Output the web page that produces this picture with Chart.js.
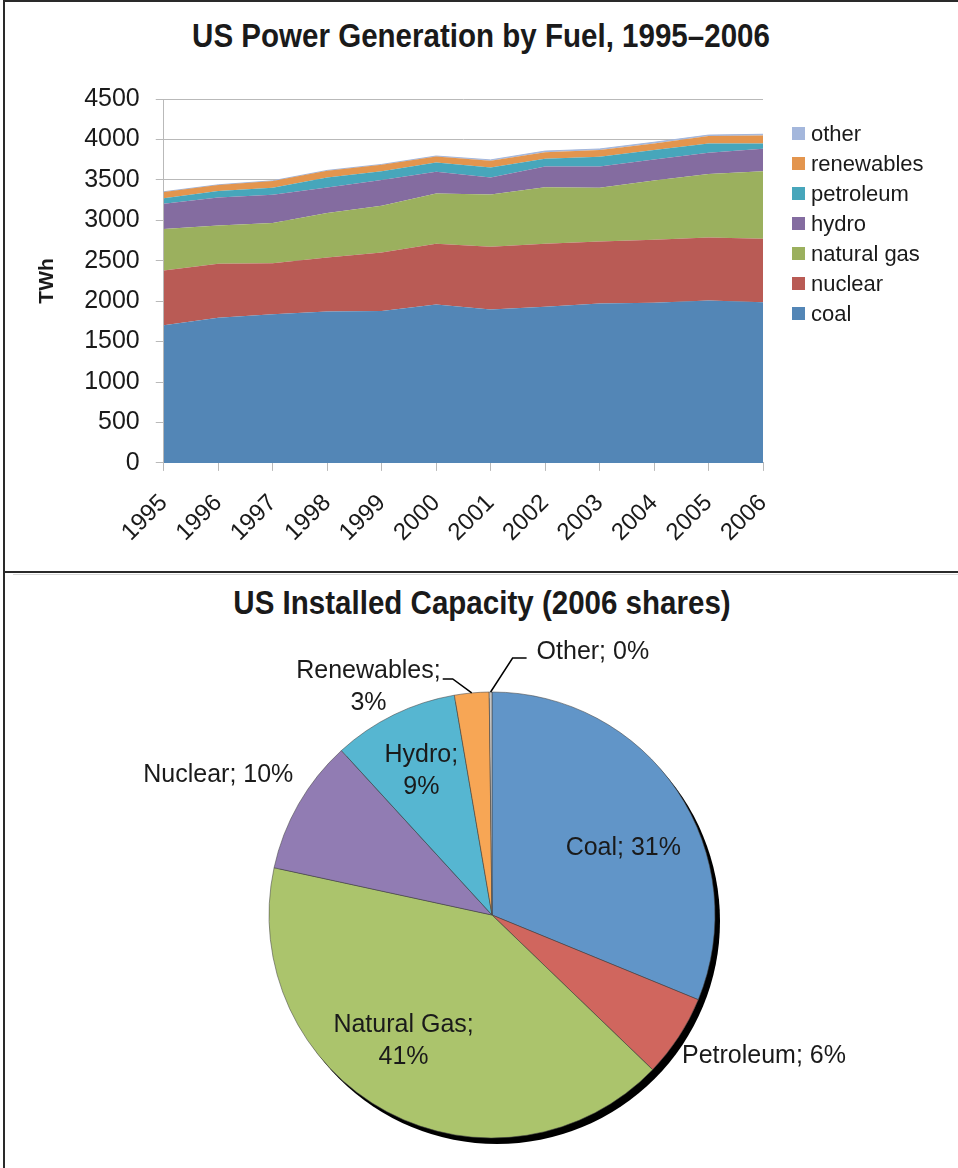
<!DOCTYPE html>
<html>
<head>
<meta charset="utf-8">
<script src="https://cdn.jsdelivr.net/npm/chart.js@4.4.1/dist/chart.umd.min.js"></script>
<style>
  body { margin: 0; background: #fff; width: 958px; height: 1168px; position: relative; overflow: hidden; }
  .frame { position: absolute; border: 2px solid #2a2a2a; box-sizing: border-box; }
  .title { position: absolute; left: 0; width: 958px; text-align: center; color: #1a1a1a;
           font: bold 33px "Liberation Sans", Arial, sans-serif; line-height: 1;
           transform: scaleX(0.895); transform-origin: 50% 50%; }
  canvas { position: absolute; left: 0; }
</style>
</head>
<body>
<div class="frame" style="left:3px;top:0;width:958px;height:573px"></div>
<div class="frame" style="left:3px;top:571px;width:958px;height:620px"></div>
<div style="position:absolute;left:13px;right:0;top:574px;height:1px;background:#d9d9d9"></div>
<div class="title" style="top:19px;left:2px">US Power Generation by Fuel, 1995–2006</div>
<div class="title" style="top:586px;left:3px">US Installed Capacity (2006 shares)</div>
<canvas id="gen" width="958" height="571" style="top:0"></canvas>
<canvas id="cap" width="958" height="596" style="top:572px"></canvas>
<script>
// generation by fuel, TWh
const years = ['1995', '1996', '1997', '1998', '1999', '2000', '2001', '2002', '2003', '2004', '2005', '2006']
const coal = [1703, 1794, 1839, 1873, 1877, 1959, 1898, 1930, 1972, 1979, 2009, 1988]
const nuclear = [677, 668, 631, 668, 726, 750, 774, 779, 767, 780, 779, 783]
const naturalGas = [511, 474, 495, 548, 576, 623, 648, 701, 663, 734, 783, 837]
const hydro = [313, 347, 350, 318, 318, 268, 210, 256, 264, 260, 264, 276]
const petroleum = [70, 78, 87, 123, 108, 116, 124, 94, 119, 115, 116, 67]
const renewables = [75, 74, 83, 82, 81, 74, 82, 83, 83, 83, 90, 99]
const other = [4, 4, 4, 5, 5, 5, 11, 13, 14, 14, 13, 14]

// installed capacity 2006, GW
const capNames = ['Coal', 'Petroleum', 'Natural Gas', 'Nuclear', 'Hydro', 'Renewables', 'Other']
const capGW = [312, 60, 412, 98, 91, 25, 2]

const bodyFont = '"Liberation Sans", Arial, sans-serif'
const ink = '#1a1a1a'
const gridGrey = '#b9b9b9'

// legend drawn to the right of the plot, top entry = last series
const sideLegend = {
  id: 'sideLegend',
  afterDraw(chart) {
    const {ctx, chartArea} = chart
    const items = chart.data.datasets.slice().reverse()
    ctx.save()
    ctx.font = '22px ' + bodyFont
    ctx.textBaseline = 'middle'
    const x = chartArea.right + 29
    let y = chartArea.top + 35
    items.forEach(ds => {
      ctx.fillStyle = ds.backgroundColor
      ctx.fillRect(x, y - 7, 13, 13)
      ctx.fillStyle = ink
      ctx.fillText(ds.label, x + 19, y + 1)
      y += 30
    })
    ctx.restore()
  }
}

const series = [
  ['coal', coal, '#5386b6'],
  ['nuclear', nuclear, '#b95b55'],
  ['natural gas', naturalGas, '#9bb05e'],
  ['hydro', hydro, '#846ca0'],
  ['petroleum', petroleum, '#47a6bb'],
  ['renewables', renewables, '#e3954e'],
  ['other', other, '#a4b7dc']
]

new Chart(document.getElementById('gen'), {
  type: 'line',
  data: {
    labels: years,
    datasets: series.map(([label, data, color], i) => ({
      label, data,
      backgroundColor: color,
      borderColor: color,
      borderWidth: label === 'other' ? 1 : 0,
      fill: i === 0 ? 'origin' : '-1',
      pointRadius: 0,
      tension: 0
    }))
  },
  options: {
    responsive: false,
    animation: false,
    layout: { padding: { left: 35, right: 195, top: 99, bottom: 6 } },
    plugins: {
      legend: { display: false },
      tooltip: { enabled: false },
      title: { display: false }
    },
    scales: {
      x: {
        grid: { drawOnChartArea: false, tickLength: 8, color: gridGrey },
        border: { color: gridGrey },
        ticks: { autoSkip: false, minRotation: 45, maxRotation: 45, padding: 18, color: ink, font: { family: bodyFont, size: 24 } }
      },
      y: {
        stacked: true,
        min: 0,
        max: 4500,
        grid: { color: gridGrey, tickLength: 8 },
        border: { color: gridGrey },
        ticks: { stepSize: 500, padding: 16, color: ink, font: { family: bodyFont, size: 25 }, callback: v => String(v) },
        title: { display: true, text: 'TWh', color: ink, font: { family: bodyFont, size: 21, weight: 'bold', lineHeight: 1.15 }, padding: { top: 0, bottom: 9 } }
      }
    }
  },
  plugins: [sideLegend]
})

// pie: drop shadow and Excel-style data labels
const labelSpots = [
  { mode: 'in', turn: 7, r: 0.66 },
  { mode: 'right', turn: 3.4, r: 1.06 },
  { mode: 'in', turn: 7, r: 0.69, split: true },
  { mode: 'left', turn: 5.3, r: 1.09 },
  { mode: 'in', turn: 0, r: 0.72, split: true },
  { mode: 'leaderLeft' },
  { mode: 'leaderRight' }
]

const pieExtras = {
  id: 'pieExtras',
  beforeDatasetsDraw(chart) {
    const arc = chart.getDatasetMeta(0).data[0]
    const ctx = chart.ctx
    ctx.save()
    ctx.fillStyle = '#000'
    ctx.beginPath()
    ctx.arc(arc.x + 5, arc.y + 6, arc.outerRadius, 0, Math.PI * 2)
    ctx.fill()
    ctx.restore()
  },
  afterDatasetsDraw(chart) {
    const ctx = chart.ctx
    const values = chart.data.datasets[0].data
    const total = values.reduce((a, b) => a + b, 0)
    ctx.save()
    ctx.font = '25px ' + bodyFont
    ctx.fillStyle = ink
    ctx.strokeStyle = '#000'
    ctx.lineWidth = 1.5
    ctx.textBaseline = 'middle'
    chart.getDatasetMeta(0).data.forEach((arc, i) => {
      const name = chart.data.labels[i]
      const pct = Math.round(values[i] / total * 100) + '%'
      const spot = labelSpots[i]
      const R = arc.outerRadius
      const mid = (arc.startAngle + arc.endAngle) / 2
      if (spot.mode === 'in' || spot.mode === 'left' || spot.mode === 'right') {
        const a = mid + spot.turn * Math.PI / 180
        const px = arc.x + Math.cos(a) * R * spot.r
        const py = arc.y + Math.sin(a) * R * spot.r
        if (spot.mode === 'in') {
          ctx.textAlign = 'center'
          if (spot.split) {
            ctx.fillText(name + ';', px, py - 16)
            ctx.fillText(pct, px, py + 16)
          } else {
            ctx.fillText(name + '; ' + pct, px, py)
          }
        } else {
          ctx.textAlign = spot.mode === 'right' ? 'left' : 'right'
          ctx.fillText(name + '; ' + pct, px, py)
        }
      } else {
        const ex = arc.x + Math.cos(mid) * R
        const ey = arc.y + Math.sin(mid) * R
        ctx.beginPath()
        ctx.moveTo(ex, ey)
        if (spot.mode === 'leaderLeft') {
          const kx = ex - 19, ky = ey - 14
          ctx.lineTo(kx, ky)
          ctx.lineTo(kx - 10, ky)
          ctx.stroke()
          const first = name + ';'
          const w = ctx.measureText(first).width
          const cx = kx - 12 - w / 2
          ctx.textAlign = 'center'
          ctx.fillText(first, cx, ky - 8)
          ctx.fillText(pct, cx, ky + 24)
        } else {
          const kx = ex + 22, ky = ey - 34
          ctx.lineTo(kx, ky)
          ctx.lineTo(kx + 14, ky)
          ctx.stroke()
          ctx.textAlign = 'left'
          ctx.fillText(name + '; ' + pct, kx + 24, ky - 6)
        }
      }
    })
    ctx.restore()
  }
}

new Chart(document.getElementById('cap'), {
  type: 'pie',
  data: {
    labels: capNames,
    datasets: [{
      data: capGW,
      backgroundColor: ['#6195c8', '#d0665e', '#abc46c', '#917cb3', '#56b6d1', '#f7a655', '#c6c6c6'],
      borderColor: 'rgba(70,70,70,0.55)',
      borderWidth: 1
    }]
  },
  options: {
    responsive: false,
    animation: false,
    layout: { padding: { left: 126, right: 100, top: 119.5, bottom: 29.5 } },
    plugins: {
      legend: { display: false },
      tooltip: { enabled: false }
    }
  },
  plugins: [pieExtras]
})
</script>
</body>
</html>
